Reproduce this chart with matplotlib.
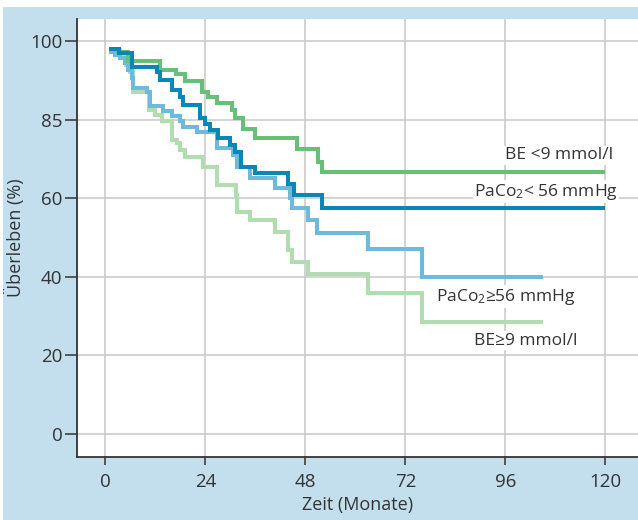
import matplotlib
matplotlib.use("Agg")
import matplotlib.pyplot as plt
from matplotlib.patches import Rectangle

plt.rcParams["font.family"] = ["Open Sans", "DejaVu Sans"]
plt.rcParams["mathtext.fontset"] = "custom"
plt.rcParams["mathtext.rm"] = "Open Sans"
plt.rcParams["mathtext.it"] = "Open Sans"

# Kaplan-Meier curves (months, survival %)
be_low_t = [0.9, 3.2, 5.5, 13.1, 16.9, 19.2, 23.1, 24.7, 26.7, 30.3, 31.1, 33.1, 35.9, 45.9, 51.1, 51.9, 120]
be_low_s = [98.1, 97.3, 94.9, 92.7, 91.7, 89.9, 87.2, 85.9, 84.2, 82.5, 80.6, 77.8, 75.5, 72.6, 69.3, 66.6, 66.6]

paco_low_t = [0.9, 3.2, 6.3, 12.3, 13.0, 15.9, 17.8, 18.7, 22.7, 23.9, 25.0, 27.1, 29.8, 31.1, 32.5, 35.9,
              43.9, 45.3, 51.9, 120]
paco_low_s = [98.1, 97.1, 93.5, 92.2, 90.1, 87.6, 85.9, 83.8, 80.4, 78.9, 77.4, 75.5, 73.5, 71.9, 67.9, 66.5,
              63.6, 60.9, 57.5, 57.5]

paco_high_t = [0.9, 2.3, 3.5, 4.7, 5.5, 6.3, 6.7, 9.9, 10.7, 13.9, 15.9, 17.9, 18.7, 21.9, 26.7, 30.7, 31.5,
               34.7, 40.7, 44.3, 44.9, 48.6, 50.7, 63.0, 75.9, 105]
paco_high_s = [97.4, 96.5, 95.7, 94.4, 92.7, 90.6, 88.0, 87.2, 83.5, 82.3, 81.0, 79.8, 78.1, 77.0, 72.8, 71.0,
               68.1, 65.1, 62.6, 60.0, 57.5, 54.5, 51.1, 47.0, 40.1, 40.1]

be_high_t = [0.9, 3.5, 5.0, 5.9, 6.7, 10.5, 11.9, 13.5, 15.9, 17.1, 17.9, 19.1, 23.5, 26.7, 31.3, 31.7, 34.7,
             40.7, 43.9, 44.7, 48.7, 63.0, 75.9, 105]
be_high_s = [97.8, 96.0, 94.0, 92.2, 87.2, 82.5, 81.2, 79.6, 74.9, 74.0, 72.3, 70.6, 67.9, 63.4, 60.9, 56.6,
             54.5, 51.5, 46.9, 43.9, 40.7, 35.8, 28.6, 28.6]

x_ticks = [0, 24, 48, 72, 96, 120]
y_ticks = [0, 20, 40, 60, 80, 100]
y_tick_labels = ["0", "20", "40", "60", "85", "100"]

BG = "#c3dfee"
TXT = "#333333"

fig = plt.figure(figsize=(6.38, 5.20), dpi=100, facecolor="white")
fig.patches.append(Rectangle((3 / 638, 0), 1, 1 - 7 / 520, transform=fig.transFigure,
                             facecolor=BG, edgecolor="none", zorder=-10))
ax = fig.add_axes([77 / 638, 1 - 456.7 / 520, 1 - 77 / 638, (456.7 - 19) / 520])
ax.set_facecolor("white")

curves = [
    (be_high_t, be_high_s, "#b2ddb1"),
    (paco_high_t, paco_high_s, "#6fbadb"),
    (be_low_t, be_low_s, "#68bf78"),
    (paco_low_t, paco_low_s, "#0b87b5"),
]
for t, s, c in curves:
    ax.step(t, s, where="post", color=c, lw=2.9, solid_joinstyle="miter", solid_capstyle="butt", zorder=3)

ax.set_xlim(-6.8, 127.8)
ax.set_ylim(-5.8, 105.7)
ax.set_xticks(x_ticks)
ax.set_yticks(y_ticks)
ax.set_yticklabels(y_tick_labels)
ax.grid(True, color="#c8c8c8", lw=1.1, zorder=1)
ax.set_axisbelow(True)

for side in ("top", "right"):
    ax.spines[side].set_visible(False)
for side in ("left", "bottom"):
    ax.spines[side].set_color(TXT)
    ax.spines[side].set_linewidth(1.3)
ax.tick_params(axis="y", length=8.5, width=1.1, color=TXT, labelcolor=TXT, labelsize=13.5, pad=2)
ax.tick_params(axis="x", length=6, width=1.1, color=TXT, labelcolor=TXT, labelsize=13.5, pad=6)

ax.set_xlabel("Zeit (Monate)", fontsize=13, color=TXT, labelpad=3)
ax.set_ylabel("Überleben (%)", fontsize=13, color=TXT, labelpad=4)

box = dict(facecolor="white", edgecolor="none", pad=1)
ax.text(121.8, 71.0, "BE <9 mmol/l", ha="right", va="center", fontsize=12.5, color=TXT, bbox=box, zorder=4)
ax.text(123.0, 61.7, r"PaCo$_\mathrm{2}$< 56 mmHg", ha="right", va="center", fontsize=12.5, color=TXT,
        bbox=box, zorder=4)
ax.text(112.9, 35.0, r"PaCo$_\mathrm{2}$≥56 mmHg", ha="right", va="center", fontsize=12.5, color=TXT,
        bbox=box, zorder=4)
ax.text(113.4, 23.8, "BE≥9 mmol/l", ha="right", va="center", fontsize=12.5, color=TXT, bbox=box, zorder=4)

fig.savefig("out.png", dpi=100, facecolor=fig.get_facecolor())
